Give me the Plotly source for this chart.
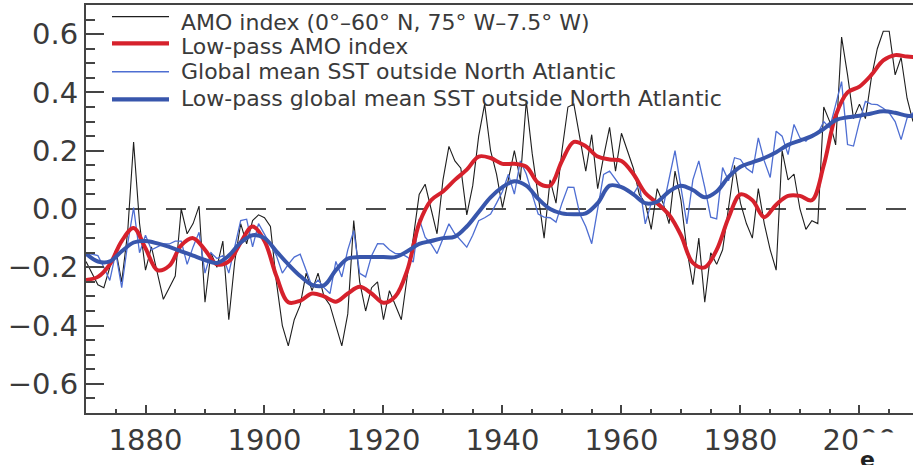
import plotly.graph_objects as go

years = list(range(1870, 2010))

amo = [
    -0.18, -0.22, -0.26, -0.27, -0.20, -0.14, -0.25, -0.08, 0.23, -0.05,
    -0.21, -0.13, -0.22, -0.31, -0.27, -0.23, 0.00, -0.085, -0.05, 0.01,
    -0.32, -0.15, -0.20, -0.11, -0.38, -0.18, -0.05, -0.12, -0.04, -0.02,
    -0.03, -0.06, -0.25, -0.40, -0.47, -0.38, -0.33, -0.22, -0.28, -0.22,
    -0.30, -0.33, -0.40, -0.47, -0.36, -0.04, -0.25, -0.35, -0.27, -0.25,
    -0.38, -0.28, -0.33, -0.38, -0.23, -0.10, 0.05, 0.085, 0.00, -0.085,
    0.10, 0.215, 0.165, 0.14, -0.02, 0.08, 0.25, 0.36, 0.20, 0.12,
    0.005, 0.10, 0.20, 0.10, 0.37, 0.19, 0.05, -0.10, 0.10, 0.02,
    0.20, 0.35, 0.36, 0.25, 0.13, 0.255, 0.07, 0.18, 0.28, 0.13,
    0.26, 0.20, 0.14, 0.05, 0.02, -0.07, 0.07, 0.02, -0.05, 0.13,
    0.03, -0.14, -0.26, -0.10, -0.32, -0.15, -0.19, -0.14, 0.00, 0.15,
    0.02, -0.05, -0.10, 0.07, -0.05, -0.14, -0.21, 0.20, 0.10, 0.12,
    0.00, -0.07, -0.04, -0.05, 0.35, 0.30, 0.22, 0.59, 0.46, 0.31,
    0.36, 0.31, 0.45, 0.55, 0.61, 0.61, 0.46, 0.52, 0.38, 0.30,
]

sst = [
    -0.15, -0.155, -0.16, -0.20, -0.245, -0.15, -0.27, -0.12, 0.005, -0.15,
    -0.09, -0.14, -0.13, -0.12, -0.12, -0.11, -0.11, -0.19, -0.13, -0.08,
    -0.22, -0.15, -0.17, -0.16, -0.22, -0.13, -0.04, -0.035, -0.13, -0.05,
    -0.085, -0.12, -0.16, -0.22, -0.19, -0.165, -0.155, -0.21, -0.267, -0.244,
    -0.27, -0.29, -0.18, -0.233, -0.14, -0.074, -0.221, -0.233, -0.16, -0.119,
    -0.12, -0.14, -0.153, -0.153, -0.165, -0.182, -0.034, -0.097, -0.12, -0.153,
    -0.10, -0.051, -0.085, -0.11, -0.131, -0.09, -0.04, -0.03, -0.017, 0.02,
    0.06, 0.119, 0.051, 0.165, 0.12, 0.05, -0.017, -0.028, -0.03, -0.045,
    0.02, 0.075, 0.074, -0.017, -0.06, -0.119, -0.006, 0.119, 0.13, 0.10,
    0.074, 0.06, 0.051, 0.085, -0.051, 0.02, 0.028, 0.006, 0.10, 0.20,
    0.074, -0.051, 0.10, 0.165, 0.074, -0.028, -0.034, 0.142, 0.097, 0.176,
    0.17, 0.14, 0.125, 0.244, 0.165, 0.108, 0.267, 0.25, 0.187, 0.29,
    0.244, 0.233, 0.255, 0.26, 0.30, 0.278, 0.358, 0.437, 0.221, 0.216,
    0.30, 0.369, 0.36, 0.358, 0.346, 0.33, 0.30, 0.238, 0.312, 0.33,
]

lp_years = list(range(1870, 2011, 2))

amo_lowpass = [
    -0.244, -0.233, -0.19, -0.11, -0.065, -0.135, -0.21, -0.195, -0.125, -0.10,
    -0.14, -0.19, -0.18, -0.115, -0.06, -0.11, -0.23, -0.32, -0.315, -0.29,
    -0.30, -0.318, -0.29, -0.267, -0.29, -0.322, -0.30, -0.21, -0.05, 0.03,
    0.06, 0.10, 0.135, 0.18, 0.175, 0.155, 0.155, 0.145, 0.09, 0.08,
    0.165, 0.23, 0.215, 0.18, 0.17, 0.165, 0.12, 0.055, 0.02, -0.02,
    -0.09, -0.185, -0.20, -0.14, -0.03, 0.05, 0.03, -0.028, 0.015, 0.045,
    0.045, 0.03, 0.15, 0.32, 0.40, 0.42, 0.46, 0.51, 0.528, 0.523, 0.52,
]

sst_lowpass = [
    -0.153, -0.18, -0.18, -0.145, -0.115, -0.11, -0.118, -0.13, -0.145, -0.16,
    -0.175, -0.185, -0.16, -0.115, -0.09, -0.10, -0.145, -0.19, -0.23, -0.26,
    -0.262, -0.21, -0.17, -0.165, -0.165, -0.165, -0.165, -0.145, -0.12, -0.11,
    -0.10, -0.095, -0.06, -0.01, 0.04, 0.075, 0.095, 0.08, 0.035, 0.0,
    -0.015, -0.018, -0.015, 0.02, 0.08, 0.075, 0.05, 0.02, 0.025, 0.06,
    0.08, 0.065, 0.04, 0.06, 0.11, 0.145, 0.16, 0.175, 0.195, 0.22,
    0.235, 0.25, 0.275, 0.305, 0.315, 0.32, 0.328, 0.335, 0.33, 0.32, 0.32,
]

names = [
    "AMO index (0°–60° N, 75° W–7.5° W)",
    "Low-pass AMO index",
    "Global mean SST outside North Atlantic",
    "Low-pass global mean SST outside North Atlantic",
]

RED = "rgb(214,33,44)"
BLUE = "rgb(56,86,172)"
BLUE_THIN = "rgb(78,110,210)"
BLACK = "#1e1e1e"
TXT = "#3a3a3a"
FONT = "DejaVu Sans"

colors = [BLACK, RED, BLUE_THIN, BLUE]
widths = [1.1, 4, 1.3, 4]

fig = go.Figure()
fig.add_trace(go.Scatter(x=years, y=amo, mode="lines", name=names[0],
                         line=dict(color=BLACK, width=widths[0])))
fig.add_trace(go.Scatter(x=years, y=sst, mode="lines", name=names[2],
                         line=dict(color=BLUE_THIN, width=widths[2])))
fig.add_trace(go.Scatter(x=lp_years, y=amo_lowpass, mode="lines", name=names[1],
                         line=dict(color=RED, width=widths[1], shape="spline", smoothing=1.0)))
fig.add_trace(go.Scatter(x=lp_years, y=sst_lowpass, mode="lines", name=names[3],
                         line=dict(color=BLUE, width=widths[3], shape="spline", smoothing=1.0)))

fig.add_shape(type="line", xref="paper", yref="y", x0=0, x1=1, y0=0, y1=0,
              line=dict(color="#111", width=1.5, dash="20px,20px"), layer="below")

# legend (key lines + labels) placed inside the top-left of the plot
PL, PW, PB, PH = 86, 827, 413, 408   # plot area in px
def px_x(p):
    return (p - PL) / PW
def px_y(p):
    return (PB - p) / PH

key_y = [16.7, 43.3, 71.7, 99.3]
text_y = [23, 47, 72, 98.5]
for i in range(4):
    fig.add_shape(type="line", xref="paper", yref="paper",
                  x0=px_x(112), x1=px_x(169), y0=px_y(key_y[i]), y1=px_y(key_y[i]),
                  line=dict(color=colors[i], width=widths[i] + (0.3 if widths[i] > 2 else 0.2)))
    fig.add_annotation(text=names[i], xref="paper", yref="paper",
                       x=px_x(179), y=px_y(text_y[i]), xanchor="left", yanchor="middle",
                       showarrow=False, font=dict(family=FONT, size=22, color=TXT))

# panel label overlapping the last tick label, as in the source figure
fig.add_annotation(text=" ", xref="paper", yref="paper", x=0.932, y=-0.047,
                   xanchor="left", yanchor="top", showarrow=False,
                   bgcolor="white", width=60, height=40, borderpad=0)
fig.add_annotation(text="<b>e</b>", xref="paper", yref="paper", x=0.933, y=-0.079,
                   xanchor="left", yanchor="top", showarrow=False,
                   font=dict(family="DejaVu Sans", size=22, color="#222"))

fig.update_layout(
    width=913, height=465,
    margin=dict(l=86, r=0, t=5, b=52),
    paper_bgcolor="white", plot_bgcolor="white",
    font=dict(family=FONT, color=TXT),
    showlegend=False,
    xaxis=dict(range=[1870, 2009], tick0=1880, dtick=20, ticks="inside", ticklen=8,
               tickwidth=1.5, tickcolor="#444", showline=True, linecolor="#444",
               linewidth=2, mirror=True, showgrid=False, zeroline=False,
               automargin=False,
               tickfont=dict(family=FONT, size=29, color=TXT),
               minor=dict(dtick=5, tick0=1870, ticks="inside", ticklen=4,
                          tickwidth=1.5, tickcolor="#444", showgrid=False)),
    yaxis=dict(range=[-0.7, 0.7], tick0=0, dtick=0.2, tickformat=".1f", ticks="inside",
               ticklen=18, tickwidth=1.5, tickcolor="#444", showline=True,
               linecolor="#444", linewidth=2, mirror=False, showgrid=False,
               zeroline=False, automargin=False,
               tickfont=dict(family=FONT, size=29, color=TXT),
               minor=dict(dtick=0.05, ticks="inside", ticklen=9, tickwidth=1.5,
                          tickcolor="#444", showgrid=False)),
)

fig.write_html("out.html", config={"displayModeBar": False},
               post_script="document.body.style.margin='0';document.body.style.overflow='hidden';")
